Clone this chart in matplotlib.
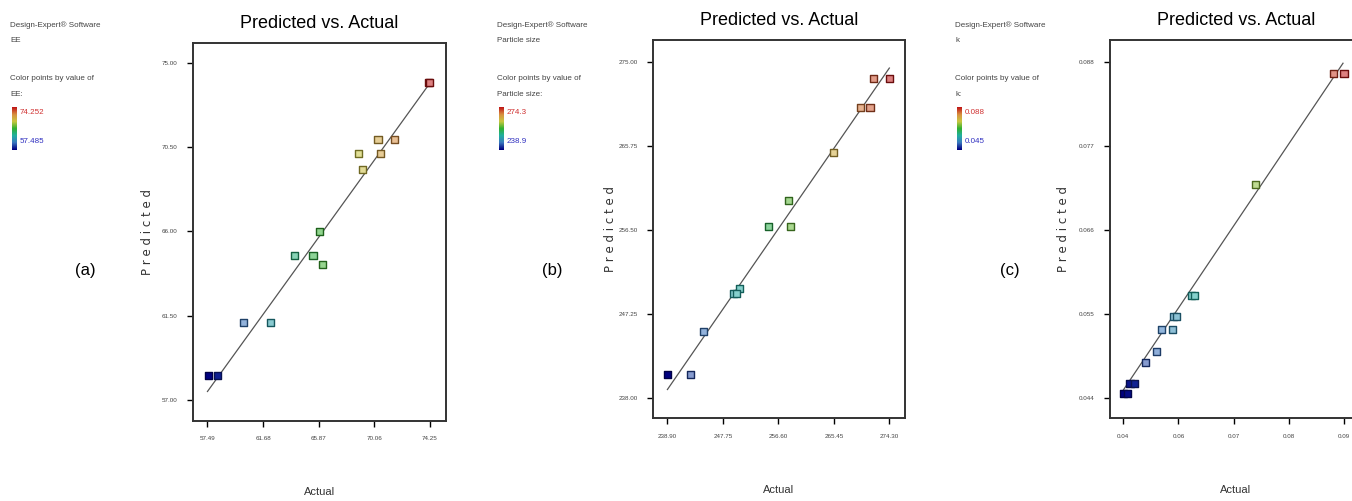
import numpy as np
import matplotlib
matplotlib.use("Agg")
import matplotlib.pyplot as plt
from matplotlib.colors import LinearSegmentedColormap, to_rgb

plt.rcParams['font.family'] = ['Liberation Sans Narrow', 'Liberation Sans', 'DejaVu Sans']

# (a) EE
a_actual = [74.13, 74.25, 70.34, 71.55, 68.85, 70.54, 69.20, 65.94, 64.05, 65.44, 66.17, 60.19, 62.26, 57.54, 58.25]
a_pred = [73.96, 73.96, 70.90, 70.90, 70.15, 70.19, 69.30, 66.02, 64.74, 64.74, 64.22, 61.16, 61.16, 58.30, 58.30]
a_line_x = [57.49, 74.25]
a_line_y = [57.45, 73.93]
a_xticks = [57.49, 61.68, 65.87, 70.06, 74.25]
a_yticks = [57.00, 61.50, 66.00, 70.50, 75.00]
a_range = [57.485, 74.252]

# (b) Particle size
b_actual = [274.30, 271.74, 269.73, 271.22, 265.35, 258.17, 255.08, 258.60, 249.38, 250.34, 249.92, 244.59, 238.90, 242.62]
b_pred = [273.17, 273.17, 269.98, 269.98, 265.02, 259.69, 256.90, 256.90, 249.50, 250.04, 249.50, 245.26, 240.60, 240.60]
b_line_x = [238.90, 274.30]
b_line_y = [238.90, 274.30]
b_xticks = [238.90, 247.75, 256.60, 265.45, 274.30]
b_yticks = [238.00, 247.25, 256.50, 265.75, 275.00]
b_range = [238.9, 274.3]

# (c) k
c_actual = [0.0859, 0.0880, 0.0708, 0.0583, 0.0588, 0.0547, 0.0554, 0.0525, 0.0546, 0.0514, 0.0494, 0.0463, 0.0471, 0.0450, 0.0458]
c_pred = [0.0865, 0.0865, 0.0719, 0.0574, 0.0574, 0.0546, 0.0546, 0.0529, 0.0529, 0.0501, 0.0486, 0.0459, 0.0459, 0.0446, 0.0446]
c_line_x = [0.0450, 0.0878]
c_line_y = [0.0450, 0.0878]
c_xticks = [0.045, 0.05575, 0.0665, 0.07725, 0.088]
c_xlabels = ["0.04", "0.06", "0.07", "0.08", "0.09"]
c_yticks = [0.044, 0.055, 0.066, 0.077, 0.088]
c_range = [0.045, 0.088]

cmap = LinearSegmentedColormap.from_list(
    "dx", ['#000080', '#3a78c0', '#20b0a0', '#30b030', '#c8c840', '#d89040', '#c01818'])


def mix(c, other, t):
    c = np.array(to_rgb(c))
    return tuple(c * (1 - t) + np.array(other) * t)


def panel(rect, actual, pred, lx, ly, vrange, xticks, xlabels, yticks, ylabels, xlim, ylim, ylab_x):
    ax = fig.add_axes(rect)
    norm = (np.array(actual) - vrange[0]) / (vrange[1] - vrange[0])
    cols = [cmap(v) for v in norm]
    faces = [c if v < 0.1 else mix(c, (1, 1, 1), 0.45) for c, v in zip(cols, norm)]
    edges = [mix(c, (0, 0, 0), 0.45) for c in cols]
    ax.plot(lx, ly, color='#555555', lw=0.9, zorder=1)
    ax.scatter(actual, pred, marker='s', s=26, c=faces, edgecolors=edges, linewidths=1.0, zorder=2)
    ax.set_xlim(xlim)
    ax.set_ylim(ylim)
    ax.set_xticks(xticks)
    ax.set_xticklabels(xlabels)
    ax.set_yticks(yticks)
    ax.set_yticklabels(ylabels)
    ax.tick_params(direction='out', length=4, width=1, labelsize=4.5, labelcolor='#444444', pad=7)
    for s in ax.spines.values():
        s.set_linewidth(1.4)
        s.set_color('#333333')
    ax.set_title('Predicted vs. Actual', fontsize=13, pad=11)
    ax.set_ylabel('P r e d i c t e d', fontsize=8.5, family=['DejaVu Sans'], color='#333333', va='center')
    ax.yaxis.set_label_coords(ylab_x, 0.5)
    ax.set_xlabel('Actual', fontsize=8, color='#333333', va='center')
    ax.xaxis.set_label_coords(0.5, -0.19)
    return ax


def legend_block(x, name, hi, lo):
    fs = 5.8
    fig.text(x / 1352, 1 - 25 / 501, 'Design-Expert® Software', fontsize=fs, color='#444444', va='center')
    fig.text(x / 1352, 1 - 40 / 501, name, fontsize=fs, color='#444444', va='center')
    fig.text(x / 1352, 1 - 78 / 501, 'Color points by value of', fontsize=fs, color='#444444', va='center')
    fig.text(x / 1352, 1 - 95 / 501, name + ':', fontsize=fs, color='#444444', va='center')
    cax = fig.add_axes([(x + 2) / 1352, 1 - 150 / 501, 5 / 1352, 43 / 501])
    cax.imshow(np.linspace(1, 0, 50).reshape(-1, 1), cmap=cmap, aspect='auto')
    cax.axis('off')
    fig.text((x + 10) / 1352, 1 - 112 / 501, hi, fontsize=fs, color='#d03030', va='center')
    fig.text((x + 10) / 1352, 1 - 142 / 501, lo, fontsize=fs, color='#3030c0', va='center')


fig = plt.figure(figsize=(13.52, 5.01), dpi=100)

panel([193 / 1352, 1 - 420.5 / 501, 253 / 1352, 377.5 / 501],
      a_actual, a_pred, a_line_x, a_line_y, a_range,
      a_xticks, ['%.2f' % v for v in a_xticks], a_yticks, ['%.2f' % v for v in a_yticks],
      (56.40, 75.46), (55.90, 76.07), -0.178)
panel([653 / 1352, 1 - 418.3 / 501, 252 / 1352, 378.3 / 501],
      b_actual, b_pred, b_line_x, b_line_y, b_range,
      b_xticks, ['%.2f' % v for v in b_xticks], b_yticks, ['%.2f' % v for v in b_yticks],
      (236.60, 276.80), (235.73, 277.39), -0.17)
panel([1110 / 1352, 1 - 418.3 / 501, 252 / 1352, 378.3 / 501],
      c_actual, c_pred, c_line_x, c_line_y, c_range,
      c_xticks, c_xlabels, c_yticks, ['%.3f' % v for v in c_yticks],
      (0.04241, 0.0915), (0.0413, 0.09084), -0.186)

legend_block(10, 'EE', '74.252', '57.485')
legend_block(497, 'Particle size', '274.3', '238.9')
legend_block(955, 'k', '0.088', '0.045')

fig.text(85 / 1352, 1 - 270 / 501, '(a)', fontsize=12, ha='center', va='center')
fig.text(552 / 1352, 1 - 270 / 501, '(b)', fontsize=12, ha='center', va='center')
fig.text(1010 / 1352, 1 - 270 / 501, '(c)', fontsize=12, ha='center', va='center')

fig.savefig('out.png', dpi=100)
